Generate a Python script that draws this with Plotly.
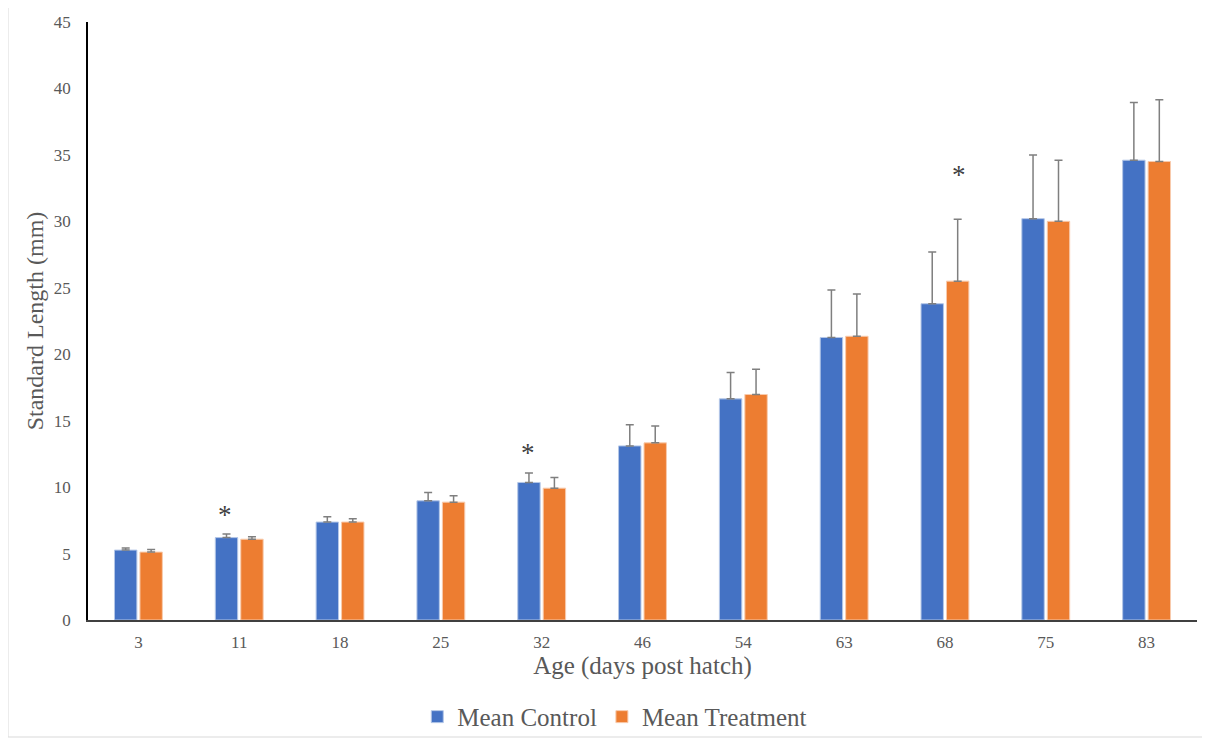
import plotly.graph_objects as go

ages = ["3", "11", "18", "25", "32", "46", "54", "63", "68", "75", "83"]
control_mean = [5.26, 6.2, 7.37, 8.97, 10.35, 13.1, 16.64, 21.26, 23.8, 30.2, 34.6]
control_err = [0.15, 0.27, 0.4, 0.63, 0.72, 1.6, 1.98, 3.57, 3.9, 4.8, 4.35]
treat_mean = [5.11, 6.08, 7.37, 8.87, 9.92, 13.33, 16.97, 21.35, 25.5, 30.0, 34.5]
treat_err = [0.2, 0.18, 0.25, 0.48, 0.8, 1.26, 1.9, 3.18, 4.65, 4.6, 4.65]

# significance markers: (age, y, which bar)
sig_ages = ["11", "32", "68"]
sig_y = [7.9, 12.6, 33.5]
sig_side = ["control", "control", "treatment"]

blue = "#4472C4"
orange = "#ED7D31"
err_color = "#7F7F7F"
font_fam = "Liberation Serif, Times New Roman, serif"

fig = go.Figure()
fig.add_trace(go.Bar(
    x=ages, y=control_mean, name="Mean Control",
    marker=dict(color=blue, line=dict(color="#B4C7E7", width=1)),
    error_y=dict(type="data", array=control_err, arrayminus=[0]*len(ages),
                 symmetric=False, color=err_color, thickness=1.5, width=4),
))
fig.add_trace(go.Bar(
    x=ages, y=treat_mean, name="Mean Treatment",
    marker=dict(color=orange, line=dict(color="#F8CBAD", width=1)),
    error_y=dict(type="data", array=treat_err, arrayminus=[0]*len(ages),
                 symmetric=False, color=err_color, thickness=1.5, width=4),
))

for a, yv, side in zip(sig_ages, sig_y, sig_side):
    fig.add_annotation(x=ages.index(a), y=yv, text="*", showarrow=False,
                       xshift=-14 if side == "control" else 14,
                       font=dict(family=font_fam, size=27, color="#404040"))

# outer chart border
fig.add_shape(type="rect", xref="paper", yref="paper",
              x0=-80/1109, x1=1120/1109, y0=-117/598, y1=1 + 15/598,
              line=dict(color="#D9D9D9", width=1), fillcolor="rgba(0,0,0,0)",
              layer="below")

fig.update_layout(
    width=1202, height=732,
    margin=dict(l=80, r=13, t=14, b=120, autoexpand=False),
    paper_bgcolor="white", plot_bgcolor="white",
    barmode="group", bargap=0.495, bargroupgap=0.12,
    font=dict(family=font_fam, color="#595959"),
    showlegend=True,
    legend=dict(orientation="h", x=0.475, xanchor="center", y=-0.162, yanchor="middle",
                font=dict(family=font_fam, size=25, color="#595959"),
                bgcolor="rgba(0,0,0,0)",
                itemwidth=30, traceorder="normal"),
    xaxis=dict(
        type="category", automargin=False,
        range=[-0.5, len(ages) - 0.5],
        title=dict(text="Age (days post hatch)", font=dict(size=25, color="#595959"), standoff=4),
        showline=True, linecolor="#404040", linewidth=1.5,
        tickfont=dict(size=17, color="#595959"), ticklabelstandoff=6,
        ticks="", showgrid=False,
    ),
    yaxis=dict(
        automargin=False,
        title=dict(text="Standard Length (mm)", font=dict(size=24, color="#595959"), standoff=3),
        range=[0, 45], dtick=5, showline=True, linecolor="black", linewidth=1.5,
        tickfont=dict(size=17, color="#595959"), ticks="", showgrid=False,
        zeroline=False, ticklabelstandoff=12,
    ),
)

fig.write_html("out.html")
